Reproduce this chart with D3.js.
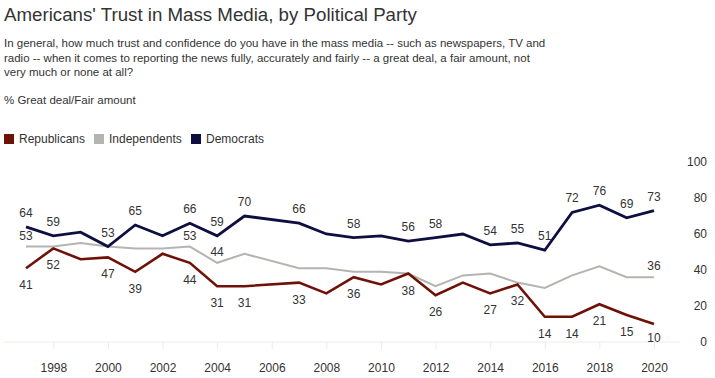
<!DOCTYPE html>
<html><head><meta charset="utf-8">
<script src="https://cdn.jsdelivr.net/npm/d3@7"></script>
<style>
html,body{margin:0;padding:0;background:#fff;}
svg{display:block;font-family:"Liberation Sans",Arial,sans-serif;}
</style></head>
<body>
<svg id="c" width="715" height="378"></svg>
<script>
const years = [1997,1998,1999,2000,2001,2002,2003,2004,2005,2007,2008,2009,2010,2011,2012,2013,2014,2015,2016,2017,2018,2019,2020];
const republicans = [41,52,46,47,39,49,44,31,31,33,27,36,32,38,26,33,27,32,14,14,21,15,10];
const independents = [53,53,55,53,52,52,53,44,49,41,41,39,39,38,31,37,38,33,30,37,42,36,36];
const democrats = [64,59,61,53,65,59,66,59,70,66,60,58,59,56,58,60,54,55,51,72,76,69,73];
const demLabelYears = [1997,1998,2000,2001,2003,2004,2005,2007,2009,2011,2012,2014,2015,2016,2017,2018,2019,2020];
const indLabelYears = [1997,2003,2004,2020];
const repLabelYears = [1997,1998,2000,2001,2003,2004,2005,2007,2009,2011,2012,2014,2015,2016,2017,2018,2019,2020];
const xTicks = [1998,2000,2002,2004,2006,2008,2010,2012,2014,2016,2018,2020];
const yTicks = [0,20,40,60,80,100];
const legendNames = ["Republicans","Independents","Democrats"];
const colors = {Republicans:"#6e1208", Independents:"#b4b5b0", Democrats:"#0e0e40"};

const svg = d3.select("#c");
const x = d3.scaleLinear().domain([1997,2020]).range([26,654]);
const y = d3.scaleLinear().domain([0,100]).range([342,162]);
const txt = "#333";

svg.append("text").attr("x",4).attr("y",21).attr("fill",txt)
  .style("font-size","18.7px").text("Americans' Trust in Mass Media, by Political Party");
const sub = ["In general, how much trust and confidence do you have in the mass media -- such as newspapers, TV and",
 "radio -- when it comes to reporting the news fully, accurately and fairly -- a great deal, a fair amount, not",
 "very much or none at all?"];
sub.forEach((s,i)=>svg.append("text").attr("x",4).attr("y",47+i*14.5).attr("fill",txt).style("font-size","11.5px").text(s));
svg.append("text").attr("x",4).attr("y",104).attr("fill",txt).style("font-size","11.5px").text("% Great deal/Fair amount");

// legend
const legX = [4,94,191];
legendNames.forEach((n,i)=>{
  svg.append("rect").attr("x",legX[i]).attr("y",134).attr("width",10).attr("height",10).attr("fill",colors[n]);
  svg.append("text").attr("x",legX[i]+15).attr("y",143).attr("fill",txt).style("font-size","12px").text(n);
});

// x axis
const xa = svg.append("g").attr("transform",`translate(0,${y(0)})`)
  .call(d3.axisBottom(x).tickValues(xTicks).tickFormat(d3.format("d")).tickSize(7).tickPadding(14).tickSizeOuter(0));
xa.select(".domain").attr("stroke","#ecece6").attr("d","M4,0H680");
xa.selectAll(".tick line").attr("stroke","#ecece6");
xa.selectAll(".tick text").attr("fill",txt).style("font-size","12px").style("font-family","Liberation Sans, Arial, sans-serif");

// y axis (labels on right)
const ya = svg.append("g").attr("transform","translate(707,0)")
  .call(d3.axisLeft(y).tickValues(yTicks).tickSize(0).tickPadding(0));
ya.select(".domain").remove();
ya.selectAll(".tick text").attr("fill",txt).style("font-size","12px").style("font-family","Liberation Sans, Arial, sans-serif");

const series = [
  {name:"Independents", vals:independents, labels:indLabelYears, dy:-7, w:2},
  {name:"Republicans", vals:republicans, labels:repLabelYears, dy:21, w:2.6},
  {name:"Democrats", vals:democrats, labels:demLabelYears, dy:-10, w:2.8}
];
const line = d3.line().x(d=>x(d[0])).y(d=>y(d[1]));
series.forEach(s=>{
  const pts = years.map((yr,i)=>[yr,s.vals[i]]);
  svg.append("path").datum(pts).attr("d",line).attr("fill","none")
    .attr("stroke",colors[s.name]).attr("stroke-width",s.w).attr("stroke-linejoin","miter");
});
series.forEach(s=>{
  const pts = years.map((yr,i)=>[yr,s.vals[i]]).filter(p=>s.labels.includes(p[0]));
  svg.append("g").selectAll("text").data(pts).join("text")
    .attr("x",d=>x(d[0])).attr("y",d=>Math.min(y(d[1])+s.dy, 342))
    .attr("text-anchor","middle").attr("fill",txt).style("font-size","12px").text(d=>d[1]);
});
</script>
</body></html>
